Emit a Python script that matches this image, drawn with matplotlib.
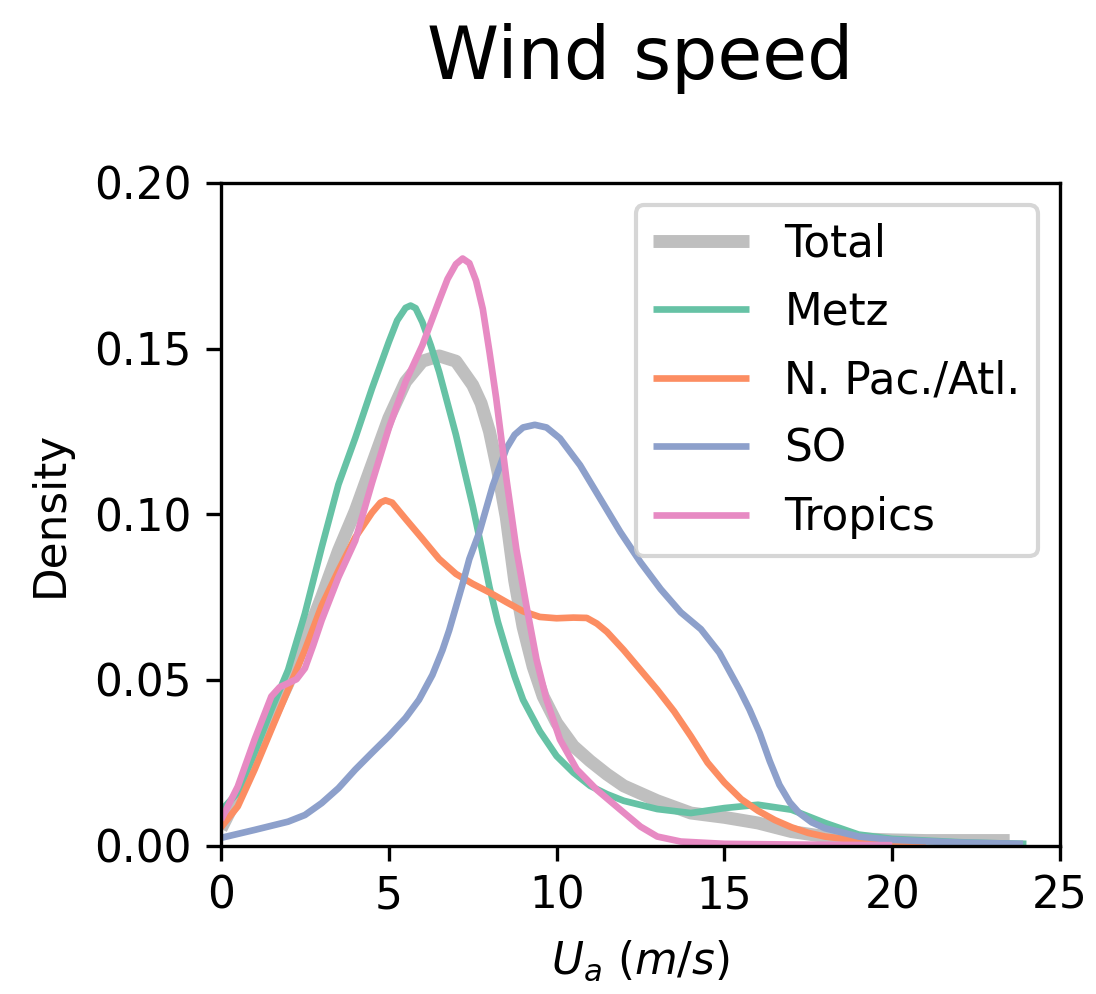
import matplotlib
matplotlib.use("Agg")
import matplotlib.pyplot as plt

# ---- data (wind speed in m/s, KDE density) ----
total_x = [0, 0.5, 1, 1.5, 2, 2.5, 3, 3.5, 4, 4.5, 5, 5.5, 6, 6.5, 7, 7.5, 7.75,
           8, 8.25, 8.5, 8.75, 9, 9.3, 9.6, 10, 10.5, 11, 11.5, 12, 13, 14, 15,
           16, 17, 18, 19, 20, 21, 22, 23, 23.5]
total_y = [0.005, 0.015, 0.026, 0.038, 0.049, 0.062, 0.075, 0.089, 0.101, 0.115,
           0.129, 0.140, 0.1462, 0.1478, 0.1462, 0.139, 0.1335, 0.125, 0.113,
           0.099, 0.080, 0.066, 0.054, 0.045, 0.037, 0.030, 0.0255, 0.0215,
           0.018, 0.0135, 0.0098, 0.0085, 0.0068, 0.0042, 0.0027, 0.002, 0.0017,
           0.0015, 0.0015, 0.0015, 0.0015]

metz_x = [0, 0.5, 1, 1.5, 2, 2.5, 3, 3.5, 4, 4.5, 5, 5.25, 5.5, 5.65, 5.8, 6,
          6.25, 6.5, 7, 7.5, 7.75, 8, 8.25, 8.5, 8.75, 9, 9.5, 10, 10.5, 11, 11.5,
          12, 13, 14, 15, 16, 17, 17.5, 18, 19, 20, 21, 22, 23, 24]
metz_y = [0.0105, 0.016, 0.028, 0.041, 0.053, 0.070, 0.090, 0.109, 0.123, 0.138,
          0.152, 0.1585, 0.1623, 0.163, 0.1622, 0.158, 0.151, 0.143, 0.124,
          0.1025, 0.0905, 0.078, 0.0675, 0.059, 0.051, 0.044, 0.0345, 0.027,
          0.022, 0.018, 0.0155, 0.0135, 0.011, 0.0098, 0.0113, 0.0123, 0.0108,
          0.0088, 0.0068, 0.0033, 0.002, 0.0015, 0.001, 0.0007, 0.0005]

npac_x = [0, 0.5, 1, 1.5, 2, 2.5, 3, 3.5, 4, 4.5, 4.75, 4.9, 5.1, 5.5, 6, 6.5, 7,
          7.5, 8, 8.5, 9, 9.5, 10, 10.5, 10.9, 11.2, 11.5, 12, 12.5, 13, 13.5, 14,
          14.5, 15, 15.5, 16, 16.5, 17, 17.5, 18, 19, 20, 21]
npac_y = [0.0055, 0.0118, 0.0229, 0.035, 0.047, 0.059, 0.0724, 0.083, 0.093,
          0.1005, 0.1035, 0.1042, 0.1035, 0.0986, 0.0926, 0.0865, 0.082, 0.079,
          0.0764, 0.0735, 0.0707, 0.069, 0.0686, 0.0688, 0.0687, 0.067, 0.0645,
          0.059, 0.053, 0.047, 0.0405, 0.033, 0.025, 0.019, 0.014, 0.0105,
          0.0077, 0.0055, 0.0038, 0.0027, 0.0015, 0.0007, 0.0003]

so_x = [0, 1, 2, 2.5, 3, 3.5, 4, 4.5, 5, 5.5, 5.9, 6.3, 6.6, 6.8, 7.0, 7.2, 7.4,
        7.7, 8.1, 8.5, 8.75, 9.0, 9.35, 9.7, 10.1, 10.7, 11.3, 11.9, 12.5, 13.1,
        13.7, 14.3, 14.85, 15.45, 15.75, 16.05, 16.35, 16.64, 16.95, 17.23, 17.6,
        18, 19, 20, 22, 23.9]
so_y = [0.0023, 0.0047, 0.0072, 0.0092, 0.0128, 0.0173, 0.0229, 0.028, 0.033,
        0.0385, 0.044, 0.0515, 0.059, 0.065, 0.072, 0.079, 0.0865, 0.0946,
        0.1087, 0.1198, 0.124, 0.1262, 0.127, 0.1262, 0.1229, 0.1148, 0.1047,
        0.0946, 0.0855, 0.0774, 0.0704, 0.0653, 0.0582, 0.0471, 0.041, 0.034,
        0.0255, 0.0183, 0.013, 0.0098, 0.007, 0.0052, 0.0027, 0.0017, 0.0009,
        0.0005]

trop_x = [0, 0.5, 1, 1.5, 1.75, 2, 2.25, 2.5, 2.75, 3, 3.5, 4, 4.5, 5, 5.5, 6,
          6.5, 6.75, 7, 7.2, 7.4, 7.6, 7.8, 8, 8.2, 8.35, 8.5, 8.8, 9.1, 9.4, 9.7,
          10.1, 10.6, 11.2, 11.9, 12.5, 13, 13.7, 15, 17, 20]
trop_y = [0.0077, 0.0178, 0.032, 0.045, 0.0478, 0.049, 0.0502, 0.0535, 0.0605,
          0.068, 0.081, 0.092, 0.1095, 0.126, 0.140, 0.151, 0.1645, 0.171,
          0.1755, 0.1772, 0.1758, 0.1705, 0.162, 0.149, 0.135, 0.123, 0.111,
          0.0895, 0.0724, 0.0562, 0.044, 0.032, 0.023, 0.0168, 0.0108, 0.0057,
          0.0027, 0.0012, 0.0005, 0.0003, 0.0001]

labels = ["Total", "Metz", "N. Pac./Atl.", "SO", "Tropics"]
colors = ["#bfbfbf", "#66c2a5", "#fc8d62", "#8da0cb", "#e78ac3"]

plt.rcParams["font.family"] = ["DejaVu Sans"]
plt.rcParams["font.size"] = 10.5

fig = plt.figure(figsize=(1096 / 300, 994 / 300), dpi=300)
ax = fig.add_axes([221 / 1096, 1 - 845.5 / 994, (1060 - 221) / 1096, (845.5 - 183) / 994])

series = [(total_x, total_y), (metz_x, metz_y), (npac_x, npac_y),
          (so_x, so_y), (trop_x, trop_y)]
for i, ((xs, ys), lab, col) in enumerate(zip(series, labels, colors)):
    ax.plot(xs, ys, color=col, lw=3.1 if i == 0 else 1.6, label=lab,
            solid_capstyle="butt", solid_joinstyle="round")

ax.set_xlim(0, 25)
ax.set_ylim(0, 0.20)
ax.set_xticks([0, 5, 10, 15, 20, 25])
ax.set_yticks([0.00, 0.05, 0.10, 0.15, 0.20])
ax.set_yticklabels(["0.00", "0.05", "0.10", "0.15", "0.20"])
ax.tick_params(labelsize=10.5)
ax.set_xlabel(r"$U_a\ (m/s)$", fontsize=10.5, labelpad=5)
ax.set_ylabel("Density", fontsize=10.5, labelpad=5.5)
ax.set_title("Wind speed", fontsize=17.5, pad=25)
ax.legend(loc="upper right", fontsize=10.5, handlelength=2.2, labelspacing=0.58)

fig.savefig("out.png", dpi=300)
